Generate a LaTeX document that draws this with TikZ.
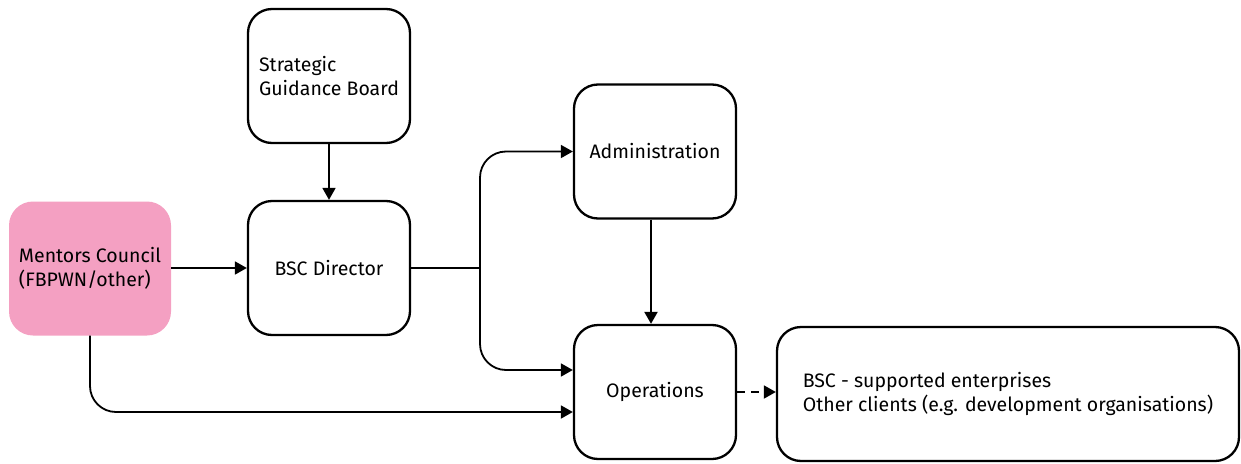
\documentclass[tikz,border=0pt]{standalone}
\usepackage{fontspec}
\setmainfont{Fira Sans}
\usetikzlibrary{arrows.meta}
\definecolor{mentorpink}{RGB}{244,160,194}
\begin{document}
\begin{tikzpicture}[x=1pt,y=-1pt,
  font=\fontsize{19.5}{24.5}\selectfont,
  box/.style={draw=black,line width=2.3pt,rounded corners=24pt,minimum width=162pt,minimum height=134pt,inner sep=0pt,align=left},
  pinkbox/.style={fill=mentorpink,draw=none,rounded corners=24pt,minimum width=162pt,minimum height=134pt,inner sep=0pt,align=left},
  link/.style={line width=1.8pt,-{Triangle[length=12pt,width=13pt]}},
  plain/.style={line width=1.8pt}]
\useasboundingbox (0,0) rectangle (1241,463);
\node[box] (sgb) at (329,76) {Strategic\\Guidance Board};
\node[pinkbox] (mc) at (90,268.5) {Mentors Council\\(FBPWN/other)};
\node[box] (dir) at (329,268) {BSC Director};
\node[box] (adm) at (655,151.5) {Administration};
\node[box] (ops) at (655,392) {Operations};
\node[box,minimum width=462pt] (cli) at (1008,394) {BSC - supported enterprises\\Other clients (e.g. development organisations)};
\coordinate (fork) at (480,268);
\draw[link] (sgb) -- (dir);
\draw[link] (mc.east |- dir) -- (dir.west);
\draw[plain] (dir.east) -- (fork);
\draw[link,rounded corners=26pt] (fork) |- (adm.west);
\draw[link,rounded corners=26pt] (fork) |- (ops.west |- 0,370);
\draw[link,line width=2.2pt] ([xshift=-4pt]adm.south) -- ([xshift=-4pt]ops.north);
\draw[link,rounded corners=26pt] (mc.south) |- (ops.west |- 0,412);
\draw[link,dash pattern=on 8pt off 6pt] (ops.east) -- (cli.west |- ops.east);
\end{tikzpicture}
\end{document}
